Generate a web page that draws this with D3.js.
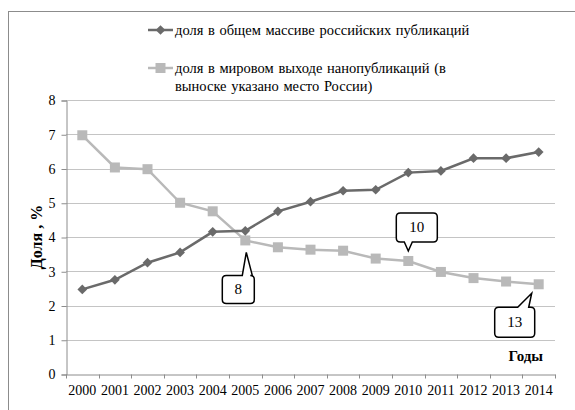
<!DOCTYPE html>
<html>
<head>
<meta charset="utf-8">
<script src="https://cdn.jsdelivr.net/npm/d3@7"></script>
<style>
  body { margin: 0; background: #fff; }
</style>
</head>
<body>
<div id="chart"></div>
<script>
var years = ["2000","2001","2002","2003","2004","2005","2006","2007","2008","2009","2010","2011","2012","2013","2014"];
var russianShare = [2.47, 2.75, 3.25, 3.55, 4.15, 4.18, 4.75, 5.03, 5.35, 5.38, 5.88, 5.93, 6.30, 6.30, 6.48];
var worldShare = [6.97, 6.03, 5.98, 5.00, 4.75, 3.90, 3.70, 3.63, 3.60, 3.37, 3.30, 2.98, 2.80, 2.70, 2.62];
var yTicks = [0, 1, 2, 3, 4, 5, 6, 7, 8];
var seriesNames = ["доля в общем массиве российских публикаций",
                   "доля в мировом выходе нанопубликаций (в|выноске указано место России)"];
// place of Russia shown in callouts
var callouts = [
  {year: "2005", label: "8"},
  {year: "2010", label: "10"},
  {year: "2014", label: "13"}
];

var width = 575, height = 410;
var darkColor = "#6a6a6a", lightColor = "#b9b9b9";
var serif = "'Liberation Serif', 'Times New Roman', serif";

var svg = d3.select("#chart").append("svg")
  .attr("width", width)
  .attr("height", height);

// outer frame
svg.append("rect")
  .attr("x", 8.5).attr("y", 11.5)
  .attr("width", 600).attr("height", 500)
  .attr("fill", "none")
  .attr("stroke", "#8c8c8c")
  .attr("stroke-width", 1);

var x = d3.scaleBand().domain(years).range([66, 555]).padding(0);
var y = d3.scaleLinear().domain([0, 8]).range([374, 100]);
var cx = d => x(d) + x.bandwidth() / 2;

/* gridlines */
svg.append("g")
  .selectAll("line")
  .data(yTicks.slice(1)).enter()
  .append("line")
  .attr("x1", 66).attr("x2", 555)
  .attr("y1", d => Math.round(y(d)) + 0.5)
  .attr("y2", d => Math.round(y(d)) + 0.5)
  .attr("stroke", "#c4c4c4");

/* axes */
var yAxis = svg.append("g")
  .attr("transform", "translate(66.5,0.5)")
  .call(d3.axisLeft(y).tickValues(yTicks).tickSize(5).tickPadding(6));
yAxis.select(".domain").attr("stroke", "#8c8c8c");
yAxis.selectAll(".tick line").attr("stroke", "#8c8c8c");
yAxis.selectAll(".tick text")
  .style("font-family", serif)
  .style("font-size", "14px")
  .attr("fill", "#000");

var xAxis = svg.append("g")
  .attr("transform", "translate(0,374.5)")
  .call(d3.axisBottom(x).tickSize(0).tickPadding(11));
xAxis.select(".domain").attr("stroke", "#8c8c8c");
xAxis.selectAll(".tick text")
  .style("font-family", serif)
  .style("font-size", "14px")
  .attr("fill", "#000");
// tick marks at the band edges
xAxis.append("g")
  .selectAll("line")
  .data(years.concat(["end"])).enter()
  .append("line")
  .attr("x1", d => Math.round(d === "end" ? x.range()[1] : x(d)) + 0.5)
  .attr("x2", d => Math.round(d === "end" ? x.range()[1] : x(d)) + 0.5)
  .attr("y1", 0).attr("y2", 4)
  .attr("stroke", "#8c8c8c");

/* axis titles */
svg.append("text")
  .attr("transform", "translate(42,237) rotate(-90)")
  .attr("text-anchor", "middle")
  .style("font-family", serif)
  .style("font-size", "16px")
  .style("font-weight", "bold")
  .text("Доля , %");

svg.append("text")
  .attr("x", 543).attr("y", 361)
  .attr("text-anchor", "end")
  .style("font-family", serif)
  .style("font-size", "15px")
  .style("font-weight", "bold")
  .text("Годы");

/* lines */
var line = d3.line()
  .x((d, i) => cx(years[i]))
  .y(d => y(d));

svg.append("path")
  .datum(worldShare)
  .attr("d", line)
  .attr("fill", "none")
  .attr("stroke", lightColor)
  .attr("stroke-width", 2.5);

svg.append("path")
  .datum(russianShare)
  .attr("d", line)
  .attr("fill", "none")
  .attr("stroke", darkColor)
  .attr("stroke-width", 2.5);

var diamond = d3.symbol().type(d3.symbolDiamond2).size(60);

svg.append("g")
  .selectAll("rect")
  .data(worldShare).enter()
  .append("rect")
  .attr("x", (d, i) => cx(years[i]) - 5)
  .attr("y", d => y(d) - 5)
  .attr("width", 10).attr("height", 10)
  .attr("fill", lightColor);

svg.append("g")
  .selectAll("path")
  .data(russianShare).enter()
  .append("path")
  .attr("d", diamond)
  .attr("transform", (d, i) => `translate(${cx(years[i])},${y(d)})`)
  .attr("fill", darkColor);

/* callouts */
// box offsets relative to the point, pointer base on top or bottom edge
var calloutLayout = {
  "8":  {dx: -23, dy: 35,  w: 32, h: 28, b1: 20, b2: 30, edge: "top",    tx: 1, ty: 12},
  "10": {dx: -12, dy: -48, w: 41, h: 29, b1: 8,  b2: 16, edge: "bottom", tx: 0, ty: -10},
  "13": {dx: -44, dy: 23,  w: 40, h: 30, b1: 23, b2: 34, edge: "top",    tx: -7, ty: 9}
};

function calloutPath(px, py, c) {
  var x0 = px + c.dx, y0 = py + c.dy, x1 = x0 + c.w, y1 = y0 + c.h, r = 4;
  var tipX = px + c.tx, tipY = py + c.ty;
  var p = d3.path();
  p.moveTo(x0 + r, y0);
  if (c.edge === "top") {
    p.lineTo(x0 + c.b1, y0);
    p.lineTo(tipX, tipY);
    p.lineTo(x0 + c.b2, y0);
  }
  p.lineTo(x1 - r, y0);
  p.quadraticCurveTo(x1, y0, x1, y0 + r);
  p.lineTo(x1, y1 - r);
  p.quadraticCurveTo(x1, y1, x1 - r, y1);
  if (c.edge === "bottom") {
    p.lineTo(x0 + c.b2, y1);
    p.lineTo(tipX, tipY);
    p.lineTo(x0 + c.b1, y1);
  }
  p.lineTo(x0 + r, y1);
  p.quadraticCurveTo(x0, y1, x0, y1 - r);
  p.lineTo(x0, y0 + r);
  p.quadraticCurveTo(x0, y0, x0 + r, y0);
  p.closePath();
  return p.toString();
}

var cg = svg.append("g")
  .selectAll("g")
  .data(callouts).enter()
  .append("g");

cg.append("path")
  .attr("d", d => {
    var i = years.indexOf(d.year);
    return calloutPath(cx(d.year), y(worldShare[i]), calloutLayout[d.label]);
  })
  .attr("fill", "#fff")
  .attr("stroke", "#000")
  .attr("stroke-width", 1.5);

cg.append("text")
  .attr("x", d => {
    var c = calloutLayout[d.label];
    return cx(d.year) + c.dx + c.w / 2;
  })
  .attr("y", d => {
    var i = years.indexOf(d.year), c = calloutLayout[d.label];
    return y(worldShare[i]) + c.dy + c.h / 2 + 5;
  })
  .attr("text-anchor", "middle")
  .style("font-family", serif)
  .style("font-size", "15px")
  .text(d => d.label);

/* legend */
var legend = svg.append("g");
var legendRows = [
  {y: 30, color: darkColor, marker: "diamond", text: seriesNames[0]},
  {y: 68, color: lightColor, marker: "square", text: seriesNames[1]}
];
var lg = legend.selectAll("g").data(legendRows).enter().append("g");
lg.append("line")
  .attr("x1", 148).attr("x2", 173)
  .attr("y1", d => d.y).attr("y2", d => d.y)
  .attr("stroke", d => d.color)
  .attr("stroke-width", 2.5);
lg.each(function(d) {
  var g = d3.select(this);
  if (d.marker === "diamond") {
    g.append("path").attr("d", diamond)
      .attr("transform", `translate(160.5,${d.y})`)
      .attr("fill", d.color);
  } else {
    g.append("rect").attr("x", 155.5).attr("y", d.y - 5)
      .attr("width", 10).attr("height", 10)
      .attr("fill", d.color);
  }
  var t = g.append("text")
    .attr("x", 175).attr("y", d.y + 5)
    .style("font-family", serif)
    .style("font-size", "14.5px")
    .style("word-spacing", "1px");
  d.text.split("|").forEach(function(s, k) {
    t.append("tspan").attr("x", 175).attr("dy", k === 0 ? 0 : 18).text(s);
  });
});
</script>
</body>
</html>
